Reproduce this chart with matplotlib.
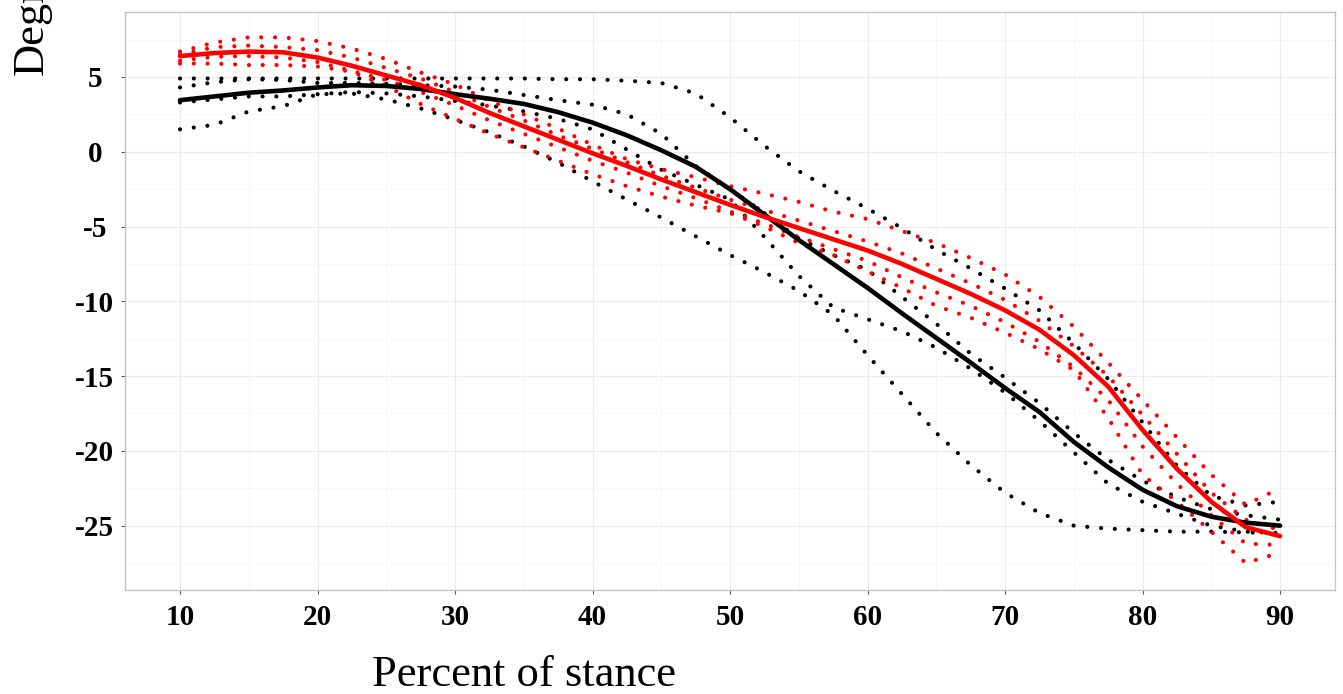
import matplotlib.pyplot as plt
import numpy as np

# percent of stance, sampled every 2.5 %
pct = np.arange(10, 90.1, 2.5)

black_mean = [3.45, 3.7, 3.95, 4.1, 4.3, 4.45, 4.4, 4.2, 3.85, 3.55, 3.2,
              2.65, 1.95, 1.1, 0.1, -1.0, -2.5, -4.2, -5.9, -7.5, -9.1, -10.8,
              -12.45, -14.1, -15.8, -17.4, -19.4, -21.1, -22.6, -23.7, -24.4, -24.8, -25.0]
red_mean = [6.4, 6.6, 6.7, 6.65, 6.3, 5.75, 5.1, 4.45, 3.6, 2.6, 1.7,
            0.8, -0.1, -0.95, -1.85, -2.7, -3.55, -4.35, -5.1, -5.85, -6.6, -7.5,
            -8.5, -9.5, -10.6, -11.9, -13.6, -15.7, -18.6, -21.2, -23.4, -25.1, -25.7]

# dotted bands
black_hi_outer = [4.9, 4.9, 4.9, 4.9, 4.9, 4.9, 4.9, 4.9, 4.9, 4.9, 4.9,
                  4.85, 4.85, 4.75, 4.6, 3.9, 2.3, 0.4, -1.3, -2.6, -3.8, -5.1,
                  -6.55, -7.8, -9.15, -10.6, -12.8, -15.2, -18.1, -21.0, -23.0, -23.65, -23.4]
black_hi_inner = [4.3, 4.65, 4.85, 4.8, 4.6, 4.6, 4.55, 4.45, 4.36, 4.15, 3.8,
                  3.45, 3.15, 2.5, 1.2, -0.95, -2.5, -4.1, -5.8, -6.9, -7.9, -9.7,
                  -11.5, -13.5, -15.1, -16.8, -18.8, -20.6, -22.0, -23.1, -23.9, -24.3, -24.6]
black_lo_inner = [3.3, 3.5, 3.7, 3.7, 3.85, 4.0, 3.9, 3.7, 3.4, 3.1, 2.7,
                  2.2, 1.5, 0.15, -1.2, -2.2, -3.2, -5.7, -8.3, -10.4, -11.2, -12.0,
                  -13.1, -14.5, -16.1, -18.0, -20.1, -22.2, -23.4, -24.2, -25.0, -25.4, -25.5]
black_lo_outer = [1.5, 1.8, 2.7, 3.05, 3.85, 3.9, 3.5, 2.9, 2.14, 1.3, 0.36,
                  -0.73, -1.98, -3.2, -4.4, -5.65, -6.9, -8.05, -9.3, -10.9, -13.6, -16.2,
                  -18.8, -20.95, -22.8, -24.15, -25.0, -25.2, -25.3, -25.4, -25.4, -25.45, -25.5]
red_hi_outer = [6.7, 7.3, 7.65, 7.65, 7.4, 6.9, 6.2, 5.3, 4.5, 3.4, 2.5,
                1.55, 0.47, -0.5, -1.16, -1.7, -2.3, -2.8, -3.35, -4.0, -4.5, -5.3,
                -6.1, -7.1, -8.2, -9.7, -11.7, -14.1, -16.6, -19.1, -21.6, -23.6, -22.5]
red_hi_inner = [6.5, 7.0, 7.1, 7.0, 6.8, 6.3, 5.6, 4.9, 4.0, 3.0, 2.1,
                1.1, 0.2, -0.7, -1.6, -2.4, -3.2, -3.9, -4.6, -5.3, -6.0, -6.8,
                -7.8, -8.8, -9.9, -11.3, -13.0, -15.0, -17.6, -20.2, -22.8, -24.6, -25.3]
red_lo_inner = [6.1, 6.35, 6.4, 6.3, 6.0, 5.4, 4.8, 4.0, 3.1, 2.1, 1.2,
                0.3, -0.6, -1.4, -2.3, -3.1, -4.0, -4.8, -5.7, -6.5, -7.3, -8.4,
                -9.4, -10.3, -11.4, -12.7, -14.4, -16.6, -19.7, -22.2, -24.3, -26.2, -26.3]
red_lo_outer = [5.9, 5.9, 5.8, 5.8, 5.7, 5.35, 4.4, 3.2, 2.2, 1.2, 0.3,
                -0.6, -1.5, -2.3, -3.0, -3.6, -4.1, -5.0, -6.1, -6.9, -8.0, -9.1,
                -10.3, -11.1, -12.1, -13.2, -14.6, -17.8, -21.6, -23.4, -25.4, -27.5, -26.8]

x_ticks = [10, 20, 30, 40, 50, 60, 70, 80, 90]
y_ticks = [-25, -20, -15, -10, -5, 0, 5]

plt.rcParams['font.family'] = ['Liberation Serif', 'DejaVu Serif']

fig = plt.figure(figsize=(13.43, 6.94), dpi=100)
ax = fig.add_axes([0.0931, 0.1499, 0.9010, 0.8329])

dot = (0, (0.01, 3.3))   # round dots about one percent apart
for ys, col in [(black_hi_outer, 'black'), (black_hi_inner, 'black'),
                (black_lo_inner, 'black'), (black_lo_outer, 'black'),
                (red_hi_outer, '#ff0000'), (red_hi_inner, '#ff0000'),
                (red_lo_inner, '#ff0000'), (red_lo_outer, '#ff0000')]:
    ax.plot(pct, ys, color=col, lw=3.0, linestyle=dot, dash_capstyle='round')

ax.plot(pct, black_mean, color='black', lw=3.3, solid_capstyle='round')
ax.plot(pct, red_mean, color='#ff0000', lw=3.3, solid_capstyle='round')

ax.set_xlim(6, 94)
ax.set_ylim(-29.3, 9.35)
ax.set_xticks(x_ticks)
ax.set_xticklabels([str(v) for v in x_ticks], fontweight='bold', fontsize=21)
ax.set_xticks(np.arange(15, 90, 10), minor=True)
ax.set_yticks(y_ticks)
ax.set_yticklabels([str(v) for v in y_ticks], fontweight='bold', fontsize=21, ha='center')
ax.set_yticks(np.arange(-27.5, 9, 5), minor=True)

ax.grid(which='major', color='#ebebeb', lw=0.9)
ax.grid(which='minor', color='#f5f5f5', lw=0.6)
ax.set_axisbelow(True)
ax.tick_params(which='major', length=3, width=0.8, color='#555555')
ax.tick_params(axis='x', pad=7)
ax.tick_params(axis='y', pad=18.7)
ax.tick_params(which='minor', length=0)
for s in ax.spines.values():
    s.set_color('#c4c4c4')
    s.set_linewidth(1.0)

fig.text(524 / 1343, 8 / 694, 'Percent of stance', fontsize=32,
         ha='center', va='baseline')
fig.text(43 / 1343, 1 - 75 / 694, 'Degrees', fontsize=32, rotation=90,
         rotation_mode='anchor', ha='left', va='baseline')

fig.savefig('out.png', dpi=100)
